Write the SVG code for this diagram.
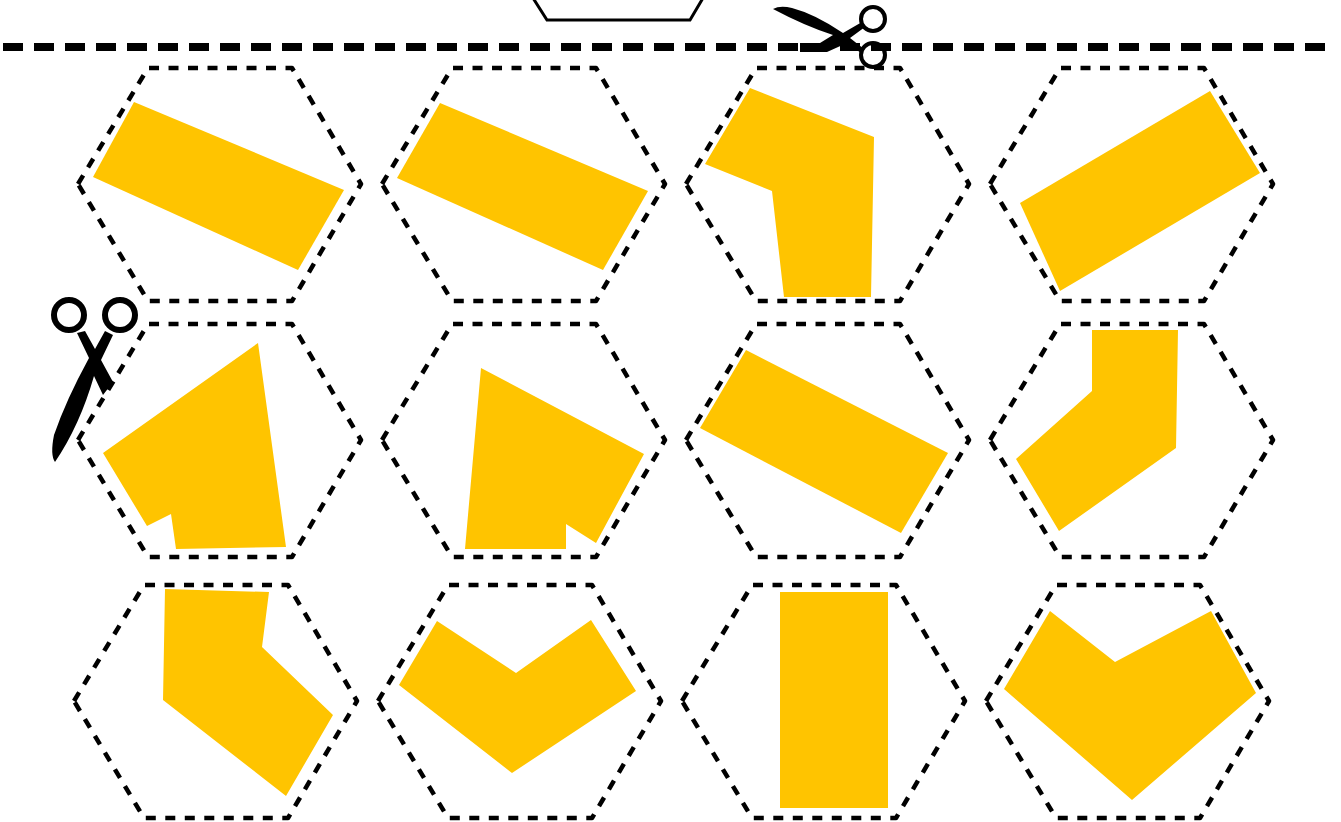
<svg xmlns="http://www.w3.org/2000/svg" width="1341" height="822" viewBox="0 0 1341 822">
<style>
.hex{fill:none;stroke:#000;stroke-width:4.500;stroke-dasharray:10 9.500;stroke-linejoin:round}
.shape{fill:#ffc400}
.ring{fill:none;stroke:#000}
.blade{fill:#000}
</style>
<defs>
<path id="h" class="hex" d="M0 116L70 0H214L283 116L214 233H70Z"/>
</defs>
<rect width="1341" height="822" fill="#fff"/>
<g id="connectors">
<path id="cut-line" d="M3 47H1330" fill="none" stroke="#000" stroke-width="8" stroke-dasharray="20 11"/>
<path id="top-hexagon" d="M533 -2L547 20H690L703 -2" fill="none" stroke="#000" stroke-width="3"/>
</g>
<g id="n1"><use href="#h" x="78" y="68"/><path class="shape" d="M134 102L344 190L298 270L93 177Z"/></g>
<g id="n2"><use href="#h" x="382" y="68"/><path class="shape" d="M440 103L648 191L603 270L397 178Z"/></g>
<g id="n3"><use href="#h" x="686" y="68"/><path class="shape" d="M750 88L874 137L871 297H784L772 191L705 164Z"/></g>
<g id="n4"><use href="#h" x="990" y="68"/><path class="shape" d="M1210 91L1260 173L1060 291L1020 203Z"/></g>
<g id="n5"><use href="#h" x="78" y="324"/><path class="shape" d="M258 343L286 547L176 549L171 514L147 526L103 453Z"/></g>
<g id="n6"><use href="#h" x="382" y="324"/><path class="shape" d="M481 368L644 454L596 543L566 524V549H465Z"/></g>
<g id="n7"><use href="#h" x="686" y="324"/><path class="shape" d="M746 350L948 453L901 533L700 428Z"/></g>
<g id="n8"><use href="#h" x="990" y="324"/><path class="shape" d="M1092 330H1178L1176 448L1059 531L1016 459L1092 391Z"/></g>
<g id="n9"><use href="#h" x="74" y="585"/><path class="shape" d="M165 589L269 592L262 647L333 715L286 796L163 700Z"/></g>
<g id="n10"><use href="#h" x="378" y="585"/><path class="shape" d="M437 621L516 673L591 620L636 691L512 773L399 685Z"/></g>
<g id="n11"><use href="#h" x="682" y="585"/><path class="shape" d="M780 592H888V808H780Z"/></g>
<g id="n12"><use href="#h" x="986" y="585"/><path class="shape" d="M1050 611L1115 662L1211 611L1256 693L1132 800L1004 689Z"/></g>
<g id="scissors-top">
<circle class="ring" cx="873" cy="19" r="12" stroke-width="4"/>
<circle class="ring" cx="873" cy="55" r="12" stroke-width="4"/>
<path class="blade" d="M773 9Q780 5 792 8Q815 14 843 33L862 22L865 27L850 38L864 49L861 53L847 43L827 52H800V43H820L833 35Q805 26 773 9Z"/>
</g>
<g id="scissors-left">
<circle class="ring" cx="69" cy="315" r="15" stroke-width="6"/>
<circle class="ring" cx="120" cy="315" r="15" stroke-width="6"/>
<path class="blade" d="M77 333L85 331L95 349L105 331L113 335L101 360L113 382L103 395L94 376Q80 425 55 462Q50 455 54 435Q66 400 89 358Z"/>
</g>
</svg>
